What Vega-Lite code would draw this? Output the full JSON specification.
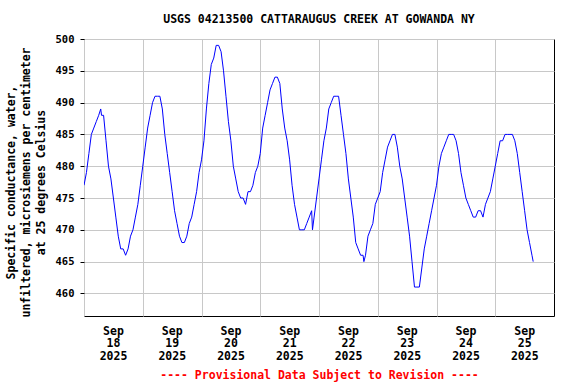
{
  "$schema": "https://vega.github.io/schema/vega-lite/v6.json",
  "width": 470,
  "height": 277,
  "autosize": "none",
  "padding": {"left": 84, "top": 39, "right": 22, "bottom": 68},
  "background": "white",
  "title": {"text": "USGS 04213500 CATTARAUGUS CREEK AT GOWANDA NY", "font": "DejaVu Sans Mono", "fontSize": 11.5, "fontWeight": "bold", "color": "black", "offset": 9, "anchor": "middle"},
  "config": {"view": {"stroke": "black", "strokeWidth": 1}, "font": "DejaVu Sans Mono"},
  "data": {"values": [
    {"t": "2025-09-18T00:00", "v": 477}, {"t": "2025-09-18T01:00", "v": 479}, {"t": "2025-09-18T02:00", "v": 482}, {"t": "2025-09-18T03:00", "v": 485},
    {"t": "2025-09-18T04:00", "v": 486}, {"t": "2025-09-18T05:00", "v": 487}, {"t": "2025-09-18T06:00", "v": 488}, {"t": "2025-09-18T06:50", "v": 489},
    {"t": "2025-09-18T07:10", "v": 488},
    {"t": "2025-09-18T08:00", "v": 488}, {"t": "2025-09-18T09:00", "v": 484}, {"t": "2025-09-18T10:00", "v": 480}, {"t": "2025-09-18T11:00", "v": 478},
    {"t": "2025-09-18T12:00", "v": 475}, {"t": "2025-09-18T13:00", "v": 472}, {"t": "2025-09-18T14:00", "v": 469}, {"t": "2025-09-18T15:00", "v": 467},
    {"t": "2025-09-18T16:00", "v": 467}, {"t": "2025-09-18T17:00", "v": 466}, {"t": "2025-09-18T18:00", "v": 467}, {"t": "2025-09-18T19:00", "v": 469},
    {"t": "2025-09-18T20:00", "v": 470}, {"t": "2025-09-18T21:00", "v": 472}, {"t": "2025-09-18T22:00", "v": 474}, {"t": "2025-09-18T23:00", "v": 477},
    {"t": "2025-09-19T00:00", "v": 480}, {"t": "2025-09-19T01:00", "v": 483}, {"t": "2025-09-19T02:00", "v": 486}, {"t": "2025-09-19T03:00", "v": 488},
    {"t": "2025-09-19T04:00", "v": 490}, {"t": "2025-09-19T05:00", "v": 491}, {"t": "2025-09-19T06:00", "v": 491}, {"t": "2025-09-19T07:00", "v": 491},
    {"t": "2025-09-19T08:00", "v": 489}, {"t": "2025-09-19T09:00", "v": 485}, {"t": "2025-09-19T10:00", "v": 482}, {"t": "2025-09-19T11:00", "v": 479},
    {"t": "2025-09-19T12:00", "v": 476}, {"t": "2025-09-19T13:00", "v": 473}, {"t": "2025-09-19T14:00", "v": 471}, {"t": "2025-09-19T15:00", "v": 469},
    {"t": "2025-09-19T16:00", "v": 468}, {"t": "2025-09-19T17:00", "v": 468}, {"t": "2025-09-19T18:00", "v": 469}, {"t": "2025-09-19T19:00", "v": 471},
    {"t": "2025-09-19T20:00", "v": 472}, {"t": "2025-09-19T21:00", "v": 474}, {"t": "2025-09-19T22:00", "v": 476}, {"t": "2025-09-19T23:00", "v": 479},
    {"t": "2025-09-20T00:00", "v": 481}, {"t": "2025-09-20T01:00", "v": 484}, {"t": "2025-09-20T02:00", "v": 489}, {"t": "2025-09-20T03:00", "v": 493},
    {"t": "2025-09-20T04:00", "v": 496}, {"t": "2025-09-20T05:00", "v": 497}, {"t": "2025-09-20T06:00", "v": 499}, {"t": "2025-09-20T07:00", "v": 499},
    {"t": "2025-09-20T08:00", "v": 498}, {"t": "2025-09-20T09:00", "v": 495}, {"t": "2025-09-20T10:00", "v": 491}, {"t": "2025-09-20T11:00", "v": 487},
    {"t": "2025-09-20T12:00", "v": 484}, {"t": "2025-09-20T13:00", "v": 480}, {"t": "2025-09-20T14:00", "v": 478}, {"t": "2025-09-20T15:00", "v": 476},
    {"t": "2025-09-20T16:00", "v": 475}, {"t": "2025-09-20T17:00", "v": 475}, {"t": "2025-09-20T18:00", "v": 474}, {"t": "2025-09-20T19:00", "v": 476},
    {"t": "2025-09-20T20:00", "v": 476}, {"t": "2025-09-20T21:00", "v": 477}, {"t": "2025-09-20T22:00", "v": 479}, {"t": "2025-09-20T23:00", "v": 480},
    {"t": "2025-09-21T00:00", "v": 482}, {"t": "2025-09-21T01:00", "v": 486}, {"t": "2025-09-21T02:00", "v": 488}, {"t": "2025-09-21T03:00", "v": 490},
    {"t": "2025-09-21T04:00", "v": 492}, {"t": "2025-09-21T05:00", "v": 493}, {"t": "2025-09-21T06:00", "v": 494}, {"t": "2025-09-21T07:00", "v": 494},
    {"t": "2025-09-21T08:00", "v": 493}, {"t": "2025-09-21T09:00", "v": 489}, {"t": "2025-09-21T10:00", "v": 486}, {"t": "2025-09-21T11:00", "v": 484},
    {"t": "2025-09-21T12:00", "v": 481}, {"t": "2025-09-21T13:00", "v": 477}, {"t": "2025-09-21T14:00", "v": 474}, {"t": "2025-09-21T15:00", "v": 472},
    {"t": "2025-09-21T16:00", "v": 470}, {"t": "2025-09-21T17:00", "v": 470}, {"t": "2025-09-21T18:00", "v": 470}, {"t": "2025-09-21T19:00", "v": 471},
    {"t": "2025-09-21T20:00", "v": 472}, {"t": "2025-09-21T21:00", "v": 473}, {"t": "2025-09-21T21:20", "v": 470}, {"t": "2025-09-21T22:00", "v": 472},
    {"t": "2025-09-21T23:00", "v": 475},
    {"t": "2025-09-22T00:00", "v": 478}, {"t": "2025-09-22T01:00", "v": 481}, {"t": "2025-09-22T02:00", "v": 484}, {"t": "2025-09-22T03:00", "v": 486},
    {"t": "2025-09-22T04:00", "v": 489}, {"t": "2025-09-22T05:00", "v": 490}, {"t": "2025-09-22T06:00", "v": 491}, {"t": "2025-09-22T07:00", "v": 491},
    {"t": "2025-09-22T08:00", "v": 491}, {"t": "2025-09-22T09:00", "v": 488}, {"t": "2025-09-22T10:00", "v": 485}, {"t": "2025-09-22T11:00", "v": 482},
    {"t": "2025-09-22T12:00", "v": 478}, {"t": "2025-09-22T13:00", "v": 475}, {"t": "2025-09-22T14:00", "v": 472}, {"t": "2025-09-22T15:00", "v": 468},
    {"t": "2025-09-22T16:00", "v": 467}, {"t": "2025-09-22T17:00", "v": 466}, {"t": "2025-09-22T18:00", "v": 466}, {"t": "2025-09-22T18:20", "v": 465},
    {"t": "2025-09-22T19:00", "v": 466}, {"t": "2025-09-22T20:00", "v": 469}, {"t": "2025-09-22T21:00", "v": 470}, {"t": "2025-09-22T22:00", "v": 471},
    {"t": "2025-09-22T23:00", "v": 474},
    {"t": "2025-09-23T00:00", "v": 475}, {"t": "2025-09-23T01:00", "v": 476}, {"t": "2025-09-23T02:00", "v": 479}, {"t": "2025-09-23T03:00", "v": 481},
    {"t": "2025-09-23T04:00", "v": 483}, {"t": "2025-09-23T05:00", "v": 484}, {"t": "2025-09-23T06:00", "v": 485}, {"t": "2025-09-23T07:00", "v": 485},
    {"t": "2025-09-23T08:00", "v": 483}, {"t": "2025-09-23T09:00", "v": 480}, {"t": "2025-09-23T10:00", "v": 478}, {"t": "2025-09-23T11:00", "v": 475},
    {"t": "2025-09-23T12:00", "v": 472}, {"t": "2025-09-23T13:00", "v": 469}, {"t": "2025-09-23T14:00", "v": 465}, {"t": "2025-09-23T15:00", "v": 461},
    {"t": "2025-09-23T16:00", "v": 461}, {"t": "2025-09-23T17:00", "v": 461}, {"t": "2025-09-23T18:00", "v": 464}, {"t": "2025-09-23T19:00", "v": 467},
    {"t": "2025-09-23T20:00", "v": 469}, {"t": "2025-09-23T21:00", "v": 471}, {"t": "2025-09-23T22:00", "v": 473}, {"t": "2025-09-23T23:00", "v": 475},
    {"t": "2025-09-24T00:00", "v": 477}, {"t": "2025-09-24T01:00", "v": 480}, {"t": "2025-09-24T02:00", "v": 482}, {"t": "2025-09-24T03:00", "v": 483},
    {"t": "2025-09-24T04:00", "v": 484}, {"t": "2025-09-24T05:00", "v": 485}, {"t": "2025-09-24T06:00", "v": 485}, {"t": "2025-09-24T07:00", "v": 485},
    {"t": "2025-09-24T08:00", "v": 484}, {"t": "2025-09-24T09:00", "v": 482}, {"t": "2025-09-24T10:00", "v": 479}, {"t": "2025-09-24T11:00", "v": 477},
    {"t": "2025-09-24T12:00", "v": 475}, {"t": "2025-09-24T13:00", "v": 474}, {"t": "2025-09-24T14:00", "v": 473}, {"t": "2025-09-24T15:00", "v": 472},
    {"t": "2025-09-24T16:00", "v": 472}, {"t": "2025-09-24T17:00", "v": 473}, {"t": "2025-09-24T18:00", "v": 473}, {"t": "2025-09-24T19:00", "v": 472},
    {"t": "2025-09-24T20:00", "v": 474}, {"t": "2025-09-24T21:00", "v": 475}, {"t": "2025-09-24T22:00", "v": 476}, {"t": "2025-09-24T23:00", "v": 478},
    {"t": "2025-09-25T00:00", "v": 480}, {"t": "2025-09-25T01:00", "v": 482}, {"t": "2025-09-25T02:00", "v": 484}, {"t": "2025-09-25T03:00", "v": 484},
    {"t": "2025-09-25T04:00", "v": 485}, {"t": "2025-09-25T05:00", "v": 485}, {"t": "2025-09-25T06:00", "v": 485}, {"t": "2025-09-25T07:00", "v": 485},
    {"t": "2025-09-25T08:00", "v": 484}, {"t": "2025-09-25T09:00", "v": 482}, {"t": "2025-09-25T10:00", "v": 479}, {"t": "2025-09-25T11:00", "v": 476},
    {"t": "2025-09-25T12:00", "v": 473}, {"t": "2025-09-25T13:00", "v": 470}, {"t": "2025-09-25T14:00", "v": 468}, {"t": "2025-09-25T15:00", "v": 466},
    {"t": "2025-09-25T15:30", "v": 465}
  ]},
  "mark": {"type": "line", "color": "#0000ff", "strokeWidth": 1, "clip": true},
  "encoding": {
    "x": {
      "field": "t", "type": "temporal",
      "scale": {"domain": [{"year": 2025, "month": 9, "date": 18}, {"year": 2025, "month": 9, "date": 26}]},
      "axis": {
        "values": [{"year": 2025, "month": 9, "date": 18}, {"year": 2025, "month": 9, "date": 19}, {"year": 2025, "month": 9, "date": 20}, {"year": 2025, "month": 9, "date": 21}, {"year": 2025, "month": 9, "date": 22}, {"year": 2025, "month": 9, "date": 23}, {"year": 2025, "month": 9, "date": 24}, {"year": 2025, "month": 9, "date": 25}],
        "labelExpr": "['Sep', timeFormat(datum.value, '%d'), '2025']",
        "labelOffset": 29,
        "labelFlush": false,
        "labelOverlap": false,
        "labelBound": false,
        "ticks": false,
        "domain": false,
        "grid": true,
        "gridColor": "#c8c8c8",
        "gridWidth": 1,
        "labelFont": "DejaVu Sans Mono",
        "labelFontSize": 11.5,
        "labelFontWeight": "bold",
        "labelColor": "black",
        "labelLineHeight": 12.7,
        "labelPadding": 9,
        "title": "---- Provisional Data Subject to Revision ----",
        "titleColor": "#ff0000",
        "titleFont": "DejaVu Sans Mono",
        "titleFontSize": 11.5,
        "titleFontWeight": "bold",
        "titlePadding": 8
      }
    },
    "y": {
      "field": "v", "type": "quantitative",
      "scale": {"domain": [456.45, 500], "nice": false, "zero": false},
      "axis": {
        "values": [460, 465, 470, 475, 480, 485, 490, 495, 500],
        "grid": true,
        "gridColor": "#c8c8c8",
        "gridWidth": 1,
        "domain": false,
        "ticks": true,
        "tickSize": 4,
        "tickColor": "black",
        "labelPadding": 6,
        "labelFont": "DejaVu Sans Mono",
        "labelFontSize": 10.5,
        "labelFontWeight": "bold",
        "labelColor": "black",
        "title": ["Specific conductance, water,", "unfiltered, microsiemens per centimeter", "at 25 degrees Celsius"],
        "titleFont": "DejaVu Sans Mono",
        "titleFontSize": 11.5,
        "titleFontWeight": "bold",
        "titleColor": "black",
        "titleLineHeight": 14.6,
        "titlePadding": 9,
        "titleY": 143
      }
    }
  }
}
